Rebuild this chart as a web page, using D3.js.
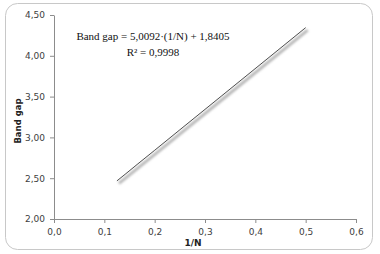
<!DOCTYPE html>
<html><head><meta charset="utf-8">
<script src="https://cdn.jsdelivr.net/npm/d3@7"></script>
<style>body{margin:0;background:#fff}svg{display:block}</style>
</head><body>
<svg id="c" width="380" height="254"></svg>
<script>
const invN = [0.125, 0.1429, 0.1667, 0.2, 0.25, 0.3333, 0.5];
const bandGap = [2.467, 2.556, 2.676, 2.842, 3.093, 3.510, 4.345];
const xTicks = [0, 0.1, 0.2, 0.3, 0.4, 0.5, 0.6];
const yTicks = [2.0, 2.5, 3.0, 3.5, 4.0, 4.5];
const eqLines = ["Band gap = 5,0092·(1/N) + 1,8405", "R² = 0,9998"];

const svg = d3.select("#c");
const defs = svg.append("defs");
defs.append("filter").attr("id","blur").attr("x","-20%").attr("y","-20%").attr("width","140%").attr("height","140%")
  .append("feGaussianBlur").attr("stdDeviation",1.2);

svg.append("rect").attr("x",5.5).attr("y",3.5).attr("width",367).attr("height",246)
  .attr("rx",12).attr("fill","#fff").attr("stroke","#c8c8c8");

const x = d3.scaleLinear().domain([0,0.6]).range([54,356]);
const y = d3.scaleLinear().domain([2,4.5]).range([219,15]);
const fmtX = d => d3.format(".1f")(d).replace(".",",");
const fmtY = d => d3.format(".2f")(d).replace(".",",");

const gx = svg.append("g").attr("transform","translate(0,219)")
  .call(d3.axisBottom(x).tickValues(xTicks).tickFormat(fmtX).tickSize(4).tickSizeOuter(0));
const gy = svg.append("g").attr("transform","translate(54,0)")
  .call(d3.axisLeft(y).tickValues(yTicks).tickFormat(fmtY).tickSize(4).tickSizeOuter(0));
[gx,gy].forEach(g=>{
  g.selectAll("path,line").attr("stroke","#8c8c8c");
  g.selectAll("text").attr("fill","#404040").style("font-family","'DejaVu Sans', Verdana, sans-serif").style("font-size","9px");
});
gx.selectAll("text").attr("dy","1.0em");
gy.selectAll("text").attr("dx","-2px");

const line = d3.line().x((d,i)=>x(invN[i])).y(d=>y(d));
svg.append("path").datum(bandGap).attr("d",line).attr("transform","translate(2,2.5)")
  .attr("fill","none").attr("stroke","#b8b8b8").attr("stroke-width",3).attr("filter","url(#blur)");
svg.append("path").datum(bandGap).attr("d",line)
  .attr("fill","none").attr("stroke","#222").attr("stroke-width",0.8);

svg.append("text").attr("x",153).attr("y",40).attr("text-anchor","middle")
  .style("font-family","'Liberation Serif','Times New Roman',serif").style("font-size","11px").attr("fill","#111")
  .text(eqLines[0]);
svg.append("text").attr("x",153).attr("y",56).attr("text-anchor","middle")
  .style("font-family","'Liberation Serif','Times New Roman',serif").style("font-size","11px").attr("fill","#111")
  .text(eqLines[1]);

svg.append("text").attr("transform","translate(21,121) rotate(-90)").attr("text-anchor","middle")
  .style("font-family","'DejaVu Sans', Verdana, sans-serif").style("font-size","8.5px").style("font-weight","bold")
  .attr("fill","#222").text("Band gap");
svg.append("text").attr("x",193).attr("y",246).attr("text-anchor","middle")
  .style("font-family","'DejaVu Sans', Verdana, sans-serif").style("font-size","9px").style("font-weight","bold")
  .attr("fill","#222").text("1/N");
</script>
</body></html>
